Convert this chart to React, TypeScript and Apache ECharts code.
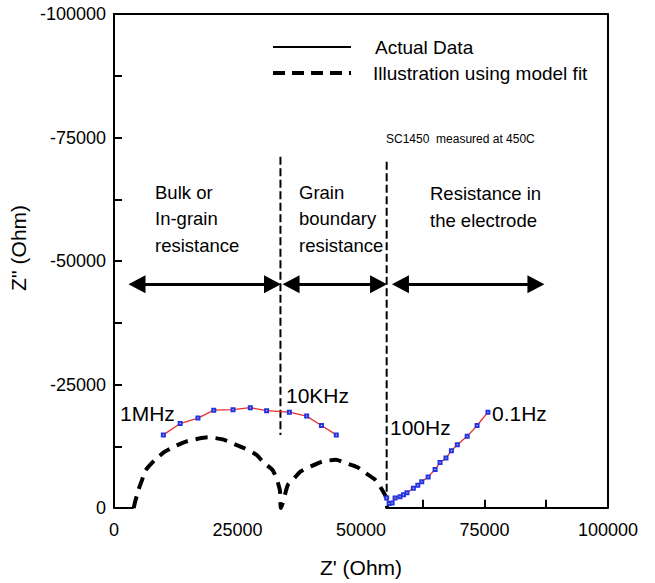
import React, { useEffect, useRef } from 'react';
import * as echarts from 'echarts';

// ---- data ----
const xMin = 0;
const xMax = 100000;
const yMin = -100000;
const yMax = 0;

// measured impedance, bulk + grain-boundary arc (Z', Z'')
const bulkData: number[][] = [
  [10000, -14800], [13400, -17100], [17000, -18200], [20200, -19800],
  [24100, -19900], [27600, -20300], [30900, -19700], [35500, -19400],
  [39000, -18600], [42000, -16700], [45000, -14800],
];

// measured impedance, electrode tail
const electrodeData: number[][] = [
  [55200, -2000], [55700, -900], [56300, -1000], [56900, -2000],
  [57900, -2300], [58600, -2700], [59300, -3100], [60600, -4000],
  [61500, -4600], [62300, -5300], [63600, -6300], [65000, -7800],
  [66000, -9200], [67200, -10100], [68300, -11600], [69500, -12800],
  [71500, -14500], [73500, -16700], [75700, -19400],
];

// model fit illustration (two depressed semicircles)
const fitData: number[][] = [
  [4000, 0], [4300, -1300], [5000, -3800], [5700, -5700], [6300, -7500],
  [8300, -9750], [10300, -11400], [12300, -12500], [14700, -13500],
  [16400, -13900], [19000, -14300], [22000, -13900], [24000, -13100],
  [26400, -12100], [28800, -10800], [30400, -9100], [32100, -7700],
  [33000, -5700], [33600, -3500], [33800, 0],
  [35200, -4700], [36200, -5700], [37800, -7400], [39800, -8400],
  [42200, -9400], [44900, -9750], [46900, -9100], [49200, -8300],
  [50900, -7100], [52900, -5700], [53900, -4300], [55000, -2300], [55300, 0],
];

// region boundaries (vertical dashed lines)
const boundary1: number[][] = [[33700, -71100], [33700, -14800]];
const boundary2: number[][] = [[55200, -70100], [55200, -1500]];

// double-headed arrows (centres of the two heads), at one Z'' level
const arrowLevel = -45300;
const arrowSpans: number[][] = [[4660, 32090], [35850, 53560], [57990, 85410]];

// visible pieces of the bottom axis and its tick marks
const bottomAxisSegments: number[][] = [[0, 4000], [55000, 100000]];
const bottomTicks: number[] = [62500, 75000, 87500];
const bottomTickHeight = -1650;

const FONT = 'Liberation Sans, Arial, Helvetica, sans-serif';

export default function App() {
  const ref = useRef<HTMLDivElement>(null);

  useEffect(() => {
    if (!ref.current) return;
    const chart = echarts.init(ref.current, undefined, { renderer: 'svg' });

    const frameLines: any[] = [];
    bottomAxisSegments.forEach(([a, b]) => {
      frameLines.push([{ coord: [a, 0] }, { coord: [b, 0] }]);
    });
    bottomTicks.forEach((t) => {
      frameLines.push([{ coord: [t, 0] }, { coord: [t, bottomTickHeight] }]);
    });

    const arrowLines = arrowSpans.map(([a, b]) => [
      { coord: [a, arrowLevel] },
      { coord: [b, arrowLevel] },
    ]);

    const txt = (text: string, x: number, y: number, size: number, align = 'left') => ({
      type: 'text',
      x,
      y,
      z: 100,
      style: {
        text,
        fill: '#000',
        font: `${size}px ${FONT}`,
        textAlign: align,
        textVerticalAlign: 'middle',
      },
    });

    const option: any = {
      animation: false,
      backgroundColor: '#fff',
      grid: { left: 112, right: 47, top: 14, bottom: 75, containLabel: false },
      xAxis: [
        {
          type: 'value',
          min: xMin,
          max: xMax,
          interval: 25000,
          name: "Z' (Ohm)",
          nameLocation: 'middle',
          nameGap: 49,
          nameTextStyle: { color: '#000', fontSize: 21, fontFamily: FONT },
          axisLine: { show: false },
          axisTick: { show: false },
          splitLine: { show: false },
          axisLabel: {
            color: '#000',
            fontSize: 18,
            fontFamily: FONT,
            margin: 13,
            formatter: (v: number) => String(v),
          },
        },
        {
          type: 'value',
          position: 'top',
          min: xMin,
          max: xMax,
          axisLine: { show: true, onZero: false, lineStyle: { color: '#000', width: 2 } },
          axisTick: { show: false },
          axisLabel: { show: false },
          splitLine: { show: false },
        },
      ],
      yAxis: [
        {
          type: 'value',
          min: yMin,
          max: yMax,
          inverse: true,
          interval: 12500,
          name: "Z'' (Ohm)",
          nameLocation: 'middle',
          nameGap: 74,
          nameRotate: 90,
          nameTextStyle: { color: '#000', fontSize: 21, fontFamily: FONT, padding: [0, 0, 0, 26] },
          axisLine: { show: true, onZero: false, lineStyle: { color: '#000', width: 2 } },
          axisTick: { show: true, inside: true, length: 8, lineStyle: { color: '#000', width: 2 } },
          splitLine: { show: false },
          axisLabel: {
            color: '#000',
            fontSize: 18,
            fontFamily: FONT,
            margin: 8,
            formatter: (v: number) => (v % 25000 === 0 ? String(v) : ''),
          },
        },
        {
          type: 'value',
          position: 'right',
          min: yMin,
          max: yMax,
          inverse: true,
          axisLine: { show: true, onZero: false, lineStyle: { color: '#000', width: 2 } },
          axisTick: { show: false },
          axisLabel: { show: false },
          splitLine: { show: false },
        },
      ],
      series: [
        {
          name: 'Illustration using model fit',
          type: 'line',
          data: fitData,
          showSymbol: false,
          symbol: 'none',
          smooth: 0.2,
          silent: true,
          z: 3,
          lineStyle: { color: '#000', width: 4, type: [12, 8], cap: 'butt' },
        },
        {
          name: 'boundary1',
          type: 'line',
          data: boundary1,
          symbol: 'none',
          silent: true,
          z: 4,
          lineStyle: { color: '#000', width: 2, type: [8, 3.5], cap: 'butt' },
        },
        {
          name: 'boundary2',
          type: 'line',
          data: boundary2,
          symbol: 'none',
          silent: true,
          z: 4,
          lineStyle: { color: '#000', width: 2, type: [8, 3.5], cap: 'butt' },
        },
        {
          name: 'Actual Data (bulk)',
          type: 'line',
          data: bulkData,
          symbol: 'emptyRect',
          symbolSize: 3,
          silent: true,
          z: 5,
          lineStyle: { color: '#e8312b', width: 1.3 },
          itemStyle: { color: '#2433e0', borderColor: '#2433e0', borderWidth: 1 },
        },
        {
          name: 'Actual Data (electrode)',
          type: 'line',
          data: electrodeData,
          symbol: 'emptyRect',
          symbolSize: 3,
          silent: true,
          z: 5,
          lineStyle: { color: '#e8312b', width: 1.3 },
          itemStyle: { color: '#2433e0', borderColor: '#2433e0', borderWidth: 1 },
        },
        {
          name: 'frame',
          type: 'line',
          data: [],
          silent: true,
          markLine: {
            silent: true,
            symbol: ['none', 'none'],
            label: { show: false },
            emphasis: { disabled: true },
            animation: false,
            lineStyle: { color: '#000', width: 2, type: 'solid' },
            data: frameLines,
          },
        },
        {
          name: 'arrows',
          type: 'line',
          data: [],
          silent: true,
          markLine: {
            silent: true,
            symbol: ['triangle', 'triangle'],
            symbolSize: [18, 17],
            label: { show: false },
            emphasis: { disabled: true },
            animation: false,
            lineStyle: { color: '#000', width: 3, type: 'solid' },
            itemStyle: { color: '#000' },
            data: arrowLines,
          },
        },
      ],
      graphic: [
        {
          type: 'line',
          z: 100,
          shape: { x1: 273, y1: 47, x2: 351, y2: 47 },
          style: { stroke: '#000', lineWidth: 2 },
        },
        {
          type: 'line',
          z: 100,
          shape: { x1: 273, y1: 73, x2: 351, y2: 73 },
          style: { stroke: '#000', lineWidth: 4, lineDash: [12, 7] },
        },
        txt('Actual Data', 375, 47, 19),
        txt('Illustration using model fit', 373, 73, 19),
        txt('SC1450  measured at 450C', 386, 139, 12),
        txt('Bulk or', 155, 192, 18.5),
        txt('In-grain', 155, 218, 18.5),
        txt('resistance', 155, 245, 18.5),
        txt('Grain', 299, 192, 18.5),
        txt('boundary', 299, 218, 18.5),
        txt('resistance', 299, 245, 18.5),
        txt('Resistance in', 430, 193, 18.5),
        txt('the electrode', 430, 220, 18.5),
        txt('1MHz', 120, 413, 21),
        txt('10KHz', 286, 395, 21),
        txt('100Hz', 390, 427, 21),
        txt('0.1Hz', 492, 413, 21),
      ],
    };

    chart.setOption(option);
    return () => chart.dispose();
  }, []);

  return (
    <div
      ref={ref}
      style={{ position: 'fixed', left: 0, top: 0, width: 655, height: 583, background: '#fff' }}
    />
  );
}
